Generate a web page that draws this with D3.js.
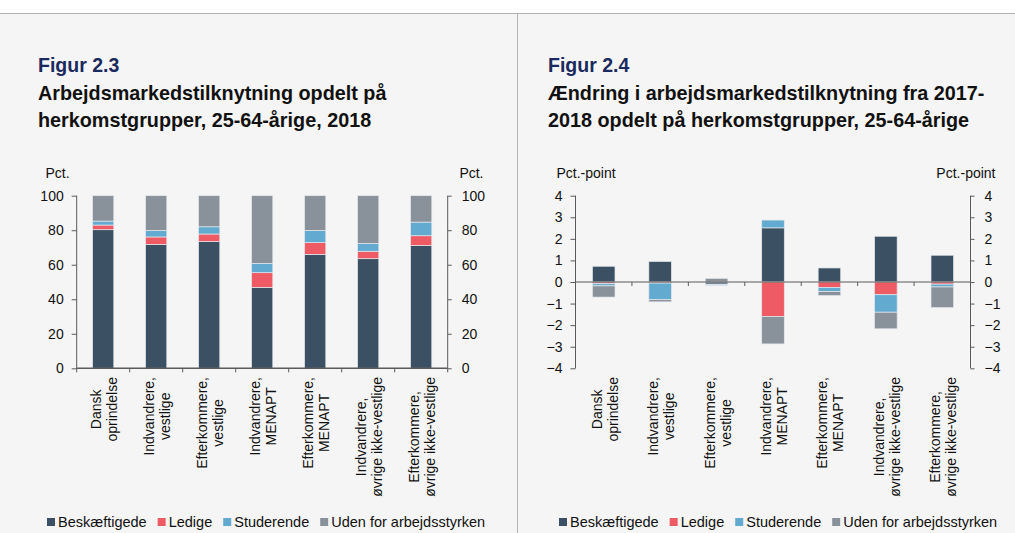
<!DOCTYPE html>
<html>
<head>
<meta charset="utf-8">
<script src="https://cdn.jsdelivr.net/npm/d3@7"></script>
<style>
  body { margin: 0; background: #f5f5f5; }
  svg { display: block; font-family: "Liberation Sans", Arial, sans-serif; }
</style>
</head>
<body>
<svg width="1015" height="533"></svg>
<script>
// categories, two lines each
var categories = [
  ["Dansk", "oprindelse"],
  ["Indvandrere,", "vestlige"],
  ["Efterkommere,", "vestlige"],
  ["Indvandrere,", "MENAPT"],
  ["Efterkommere,", "MENAPT"],
  ["Indvandrere,", "øvrige ikke-vestlige"],
  ["Efterkommere,", "øvrige ikke-vestlige"]
];
var seriesNames = ["Beskæftigede", "Ledige", "Studerende", "Uden for arbejdsstyrken"];
var colors = ["#3b5163", "#ee5b65", "#62aacf", "#89919b"];

// Figur 2.3 - level 2018, pct.
var besk2018   = [80.3, 71.8, 73.4, 46.9, 66.0, 63.5, 71.2];
var ledige2018 = [2.7, 4.3, 4.4, 8.5, 6.8, 4.3, 5.6];
var stud2018   = [2.3, 3.8, 4.2, 5.4, 7.1, 4.6, 7.9];
var uden2018   = [14.7, 20.1, 18.0, 39.2, 20.1, 27.6, 15.3];

// Figur 2.4 - change 2017-2018, pct.-point
var beskChg   = [0.73, 0.95, -0.10, 2.51, 0.65, 2.12, 1.24];
var ledigeChg = [-0.08, -0.05, -0.01, -1.60, -0.25, -0.59, -0.10];
var studChg   = [-0.10, -0.77, -0.04, 0.36, -0.19, -0.81, -0.13];
var udenChg   = [-0.52, -0.10, 0.17, -1.27, -0.19, -0.77, -0.96];

var ticks1 = [0, 20, 40, 60, 80, 100];
var ticks2 = [-4, -3, -2, -1, 0, 1, 2, 3, 4];

var svg = d3.select("svg");
var axisColor = "#5a5a5a";

// page frame
svg.append("rect").attr("x", 0).attr("y", 0).attr("width", 1015).attr("height", 13).attr("fill", "#fff");
svg.append("line").attr("x1", 0).attr("x2", 1015).attr("y1", 13.5).attr("y2", 13.5)
  .attr("stroke", "#b3b3b3").attr("stroke-width", 1);
svg.append("line").attr("x1", 517.5).attr("x2", 517.5).attr("y1", 13).attr("y2", 533)
  .attr("stroke", "#b3b3b3").attr("stroke-width", 1);

function makeRows(arrs) {
  return categories.map(function(c, i) {
    var row = { cat: i };
    seriesNames.forEach(function(s, j) { row[s] = arrs[j][i]; });
    return row;
  });
}

function drawChart(cfg) {
  var g = svg.append("g");

  // titles
  g.append("text").attr("x", cfg.titleX).attr("y", 72)
    .attr("font-size", 19.5).attr("font-weight", "bold").attr("fill", "#1b2a5e")
    .text(cfg.fig);
  cfg.title.forEach(function(t, i) {
    g.append("text").attr("x", cfg.titleX).attr("y", 100 + i * 27)
      .attr("font-size", 19.8).attr("font-weight", "bold").attr("fill", "#111")
      .text(t);
  });

  var x = d3.scaleBand().domain(d3.range(categories.length)).range([cfg.x0, cfg.x1]).padding(0);
  var y = d3.scaleLinear().domain(cfg.domain).range([368.3, 195.7]);

  var stack = d3.stack().keys(seriesNames).offset(d3.stackOffsetDiverging);
  var stacked = stack(makeRows(cfg.data));
  var bw = x.bandwidth() * 0.4;

  g.append("g").selectAll("g")
    .data(stacked)
    .enter().append("g")
    .attr("fill", function(d, i) { return colors[i]; })
    .selectAll("rect")
    .data(function(d) { return d; })
    .enter().append("rect")
    .attr("x", function(d, i) { return x(i) + (x.bandwidth() - bw) / 2; })
    .attr("width", bw)
    .attr("y", function(d) { return y(Math.max(d[0], d[1])); })
    .attr("height", function(d) { return Math.abs(y(d[0]) - y(d[1])); })
    .attr("stroke", "#e4e8ec").attr("stroke-width", 0.7);

  // y axes
  var left = d3.axisLeft(y).tickValues(cfg.ticks).tickSize(5).tickPadding(8);
  var right = d3.axisRight(y).tickValues(cfg.ticks).tickSize(4).tickPadding(10);
  [[left, cfg.x0], [right, cfg.x1]].forEach(function(a) {
    var ax = g.append("g").attr("transform", "translate(" + a[1] + ",0)").call(a[0]);
    ax.select(".domain").attr("stroke", axisColor)
      .attr("d", "M0," + y.range()[0] + "V" + y.range()[1]);
    ax.selectAll(".tick line").attr("stroke", axisColor);
    ax.selectAll("text").attr("font-size", 14).attr("fill", "#111")
      .attr("font-family", "Liberation Sans, Arial, sans-serif");
  });

  // x axis line at zero with boundary ticks
  var y0 = y(0);
  g.append("line").attr("x1", cfg.x0).attr("x2", cfg.x1).attr("y1", y0).attr("y2", y0)
    .attr("stroke", axisColor).attr("stroke-width", cfg.zeroWidth);
  var bounds = d3.range(cfg.innerTicksOnly ? 1 : 0, categories.length + (cfg.innerTicksOnly ? 0 : 1));
  g.selectAll(".bt").data(bounds).enter().append("line")
    .attr("x1", function(d) { return cfg.x0 + d * x.step(); })
    .attr("x2", function(d) { return cfg.x0 + d * x.step(); })
    .attr("y1", y0).attr("y2", y0 + 4)
    .attr("stroke", axisColor);

  // unit labels
  g.append("text").attr("x", cfg.unitLeftX).attr("y", 178).attr("font-size", 14).attr("fill", "#111").text(cfg.unit);
  g.append("text").attr("x", cfg.unitRightX).attr("y", 178).attr("font-size", 14).attr("fill", "#111")
    .attr("text-anchor", "end").text(cfg.unit);

  // category labels, rotated
  categories.forEach(function(lines, i) {
    var c = x(i) + x.bandwidth() / 2;
    var lg = g.append("g");
    var texts = lines.map(function(t, k) {
      return lg.append("text").attr("font-size", 14).attr("fill", "#111")
        .attr("text-anchor", "middle").text(t);
    });
    var maxLen = d3.max(texts, function(t) { return t.node().getComputedTextLength(); });
    var yc = 377 + maxLen / 2;
    texts.forEach(function(t, k) {
      var bx = c - 2 + k * 16;
      t.attr("transform", "translate(" + bx + "," + yc + ") rotate(-90)");
    });
  });

  // legend
  var lx = cfg.legendX;
  seriesNames.forEach(function(s, i) {
    g.append("rect").attr("x", lx).attr("y", 518).attr("width", 8).attr("height", 8).attr("fill", colors[i]);
    var t = g.append("text").attr("x", lx + 11).attr("y", 526.5).attr("font-size", 14.5).attr("fill", "#111").text(s);
    lx += 11 + t.node().getComputedTextLength() + 11;
  });
}

drawChart({
  fig: "Figur 2.3",
  title: ["Arbejdsmarkedstilknytning opdelt på", "herkomstgrupper, 25-64-årige, 2018"],
  titleX: 38,
  x0: 76.7, x1: 447.7,
  domain: [0, 100], ticks: ticks1,
  data: [besk2018, ledige2018, stud2018, uden2018],
  unit: "Pct.", unitLeftX: 45.5, unitRightX: 483.5,
  zeroWidth: 1.6, innerTicksOnly: false,
  legendX: 47
});

drawChart({
  fig: "Figur 2.4",
  title: ["Ændring i arbejdsmarkedstilknytning fra 2017-", "2018 opdelt på herkomstgrupper, 25-64-årige"],
  titleX: 548,
  x0: 575.5, x1: 970.5,
  domain: [-4, 4], ticks: ticks2,
  data: [beskChg, ledigeChg, studChg, udenChg],
  unit: "Pct.-point", unitLeftX: 556.5, unitRightX: 995.5,
  zeroWidth: 1.2, innerTicksOnly: true,
  legendX: 559
});
</script>
</body>
</html>
